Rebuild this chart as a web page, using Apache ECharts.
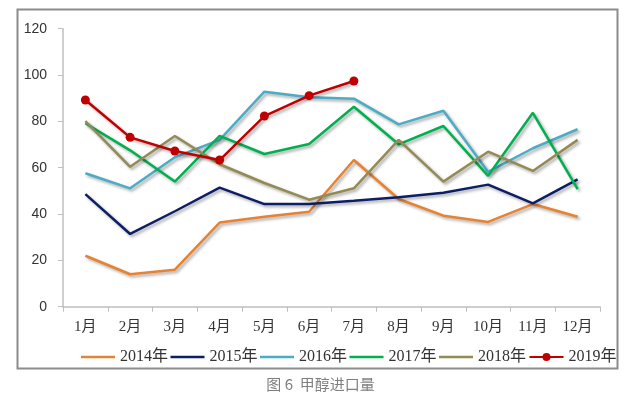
<!DOCTYPE html>
<html>
<head>
<meta charset="utf-8">
<script src="https://cdn.jsdelivr.net/npm/echarts@6/dist/echarts.min.js"></script>
<style>
	html, body { margin: 0; padding: 0; background: #fff; }
	#main { width: 641px; height: 397px; }
</style>
</head>
<body>
<div id="main"></div>
<script>
const months = ['1月', '2月', '3月', '4月', '5月', '6月', '7月', '8月', '9月', '10月', '11月', '12月']
const years = ['2014年', '2015年', '2016年', '2017年', '2018年', '2019年']
const colors = ['#e8822e', '#0c1f66', '#4bacc6', '#00b050', '#948a54', '#c00000']

const d2014 = [22, 14, 16, 36.3, 38.8, 41, 63.3, 46.5, 39.3, 36.6, 44.3, 38.8]
const d2015 = [48.6, 31.4, 41.2, 51.4, 44.3, 44.3, 45.7, 47.2, 49.2, 52.7, 44.6, 55]
const d2016 = [57.6, 51.1, 64.5, 72, 92.8, 90.4, 89.8, 78.7, 84.6, 58.2, 68.4, 76.6]
const d2017 = [79.2, 67.5, 54, 73.7, 65.9, 70.2, 86.3, 70.1, 78, 56.5, 83.7, 50.8]
const d2018 = [80.1, 60.4, 73.7, 61.5, 53.4, 46.2, 51.1, 72, 54, 66.9, 58.6, 72]
const d2019 = [89.2, 73.1, 67.2, 63.3, 82.3, 91.1, 97.4]

const allData = [d2014, d2015, d2016, d2017, d2018, d2019]

var myChart = echarts.init(document.getElementById('main'))

// 图例：只有2019年带圆点，其它是纯线
const lineIcon = 'path://M0,0 M0,3.8 L34,3.8 L34,6.2 L0,6.2 Z M34,10'
const legendData = []
const seriesList = []
for (let i = 0; i < years.length; i++) {
	const isRed = i === 5
	legendData.push(isRed ? { name: years[i] } : { name: years[i], icon: lineIcon })
	seriesList.push({
		name: years[i],
		type: 'line',
		data: allData[i],
		symbol: isRed ? 'circle' : 'none',
		symbolSize: 9,
		showSymbol: isRed,
		itemStyle: { color: colors[i] },
		lineStyle: {
			color: colors[i],
			width: 2.5,
			shadowColor: 'rgba(0,0,0,0.35)',
			shadowBlur: 3,
			shadowOffsetX: 2,
			shadowOffsetY: 2
		},
		z: i + 2
	})
}

var option = {
	animation: false,
	title: {
		text: '图 6  甲醇进口量',
		left: 'center',
		top: 372,
		textStyle: {
			color: '#7f7f7f',
			fontSize: 15,
			fontWeight: 'normal',
			fontFamily: 'Noto Sans CJK SC'
		}
	},
	graphic: [{
		type: 'rect',
		shape: { x: 17.5, y: 9.5, width: 600, height: 359 },
		style: { fill: 'none', stroke: '#8c8c8c', lineWidth: 2 },
		silent: true
	}],
	legend: {
		data: legendData,
		left: 76,
		top: 344,
		itemWidth: 34,
		itemHeight: 10,
		itemGap: 2.5,
		textStyle: {
			color: '#333',
			fontSize: 16,
			fontFamily: 'Liberation Serif, Noto Sans CJK SC'
		}
	},
	grid: {
		left: 63,
		right: 41,
		top: 28.7,
		bottom: 90.3
	},
	xAxis: {
		type: 'category',
		data: months,
		boundaryGap: true,
		axisLine: { lineStyle: { color: '#bfbfbf', width: 1.5 } },
		axisTick: { show: true, length: 5, lineStyle: { color: '#bfbfbf' } },
		axisLabel: {
			color: '#333',
			fontSize: 15,
			margin: 13,
			fontFamily: 'Liberation Serif, Noto Sans CJK SC'
		}
	},
	yAxis: {
		type: 'value',
		min: 0,
		max: 120,
		interval: 20,
		axisLine: { show: true, lineStyle: { color: '#bfbfbf', width: 1.5 } },
		axisTick: { show: true, length: 5, lineStyle: { color: '#bfbfbf' } },
		splitLine: { show: false },
		axisLabel: {
			color: '#333',
			fontSize: 14,
			margin: 16,
			fontFamily: 'Liberation Sans, Noto Sans'
		}
	},
	series: seriesList
}

myChart.setOption(option)
</script>
</body>
</html>
